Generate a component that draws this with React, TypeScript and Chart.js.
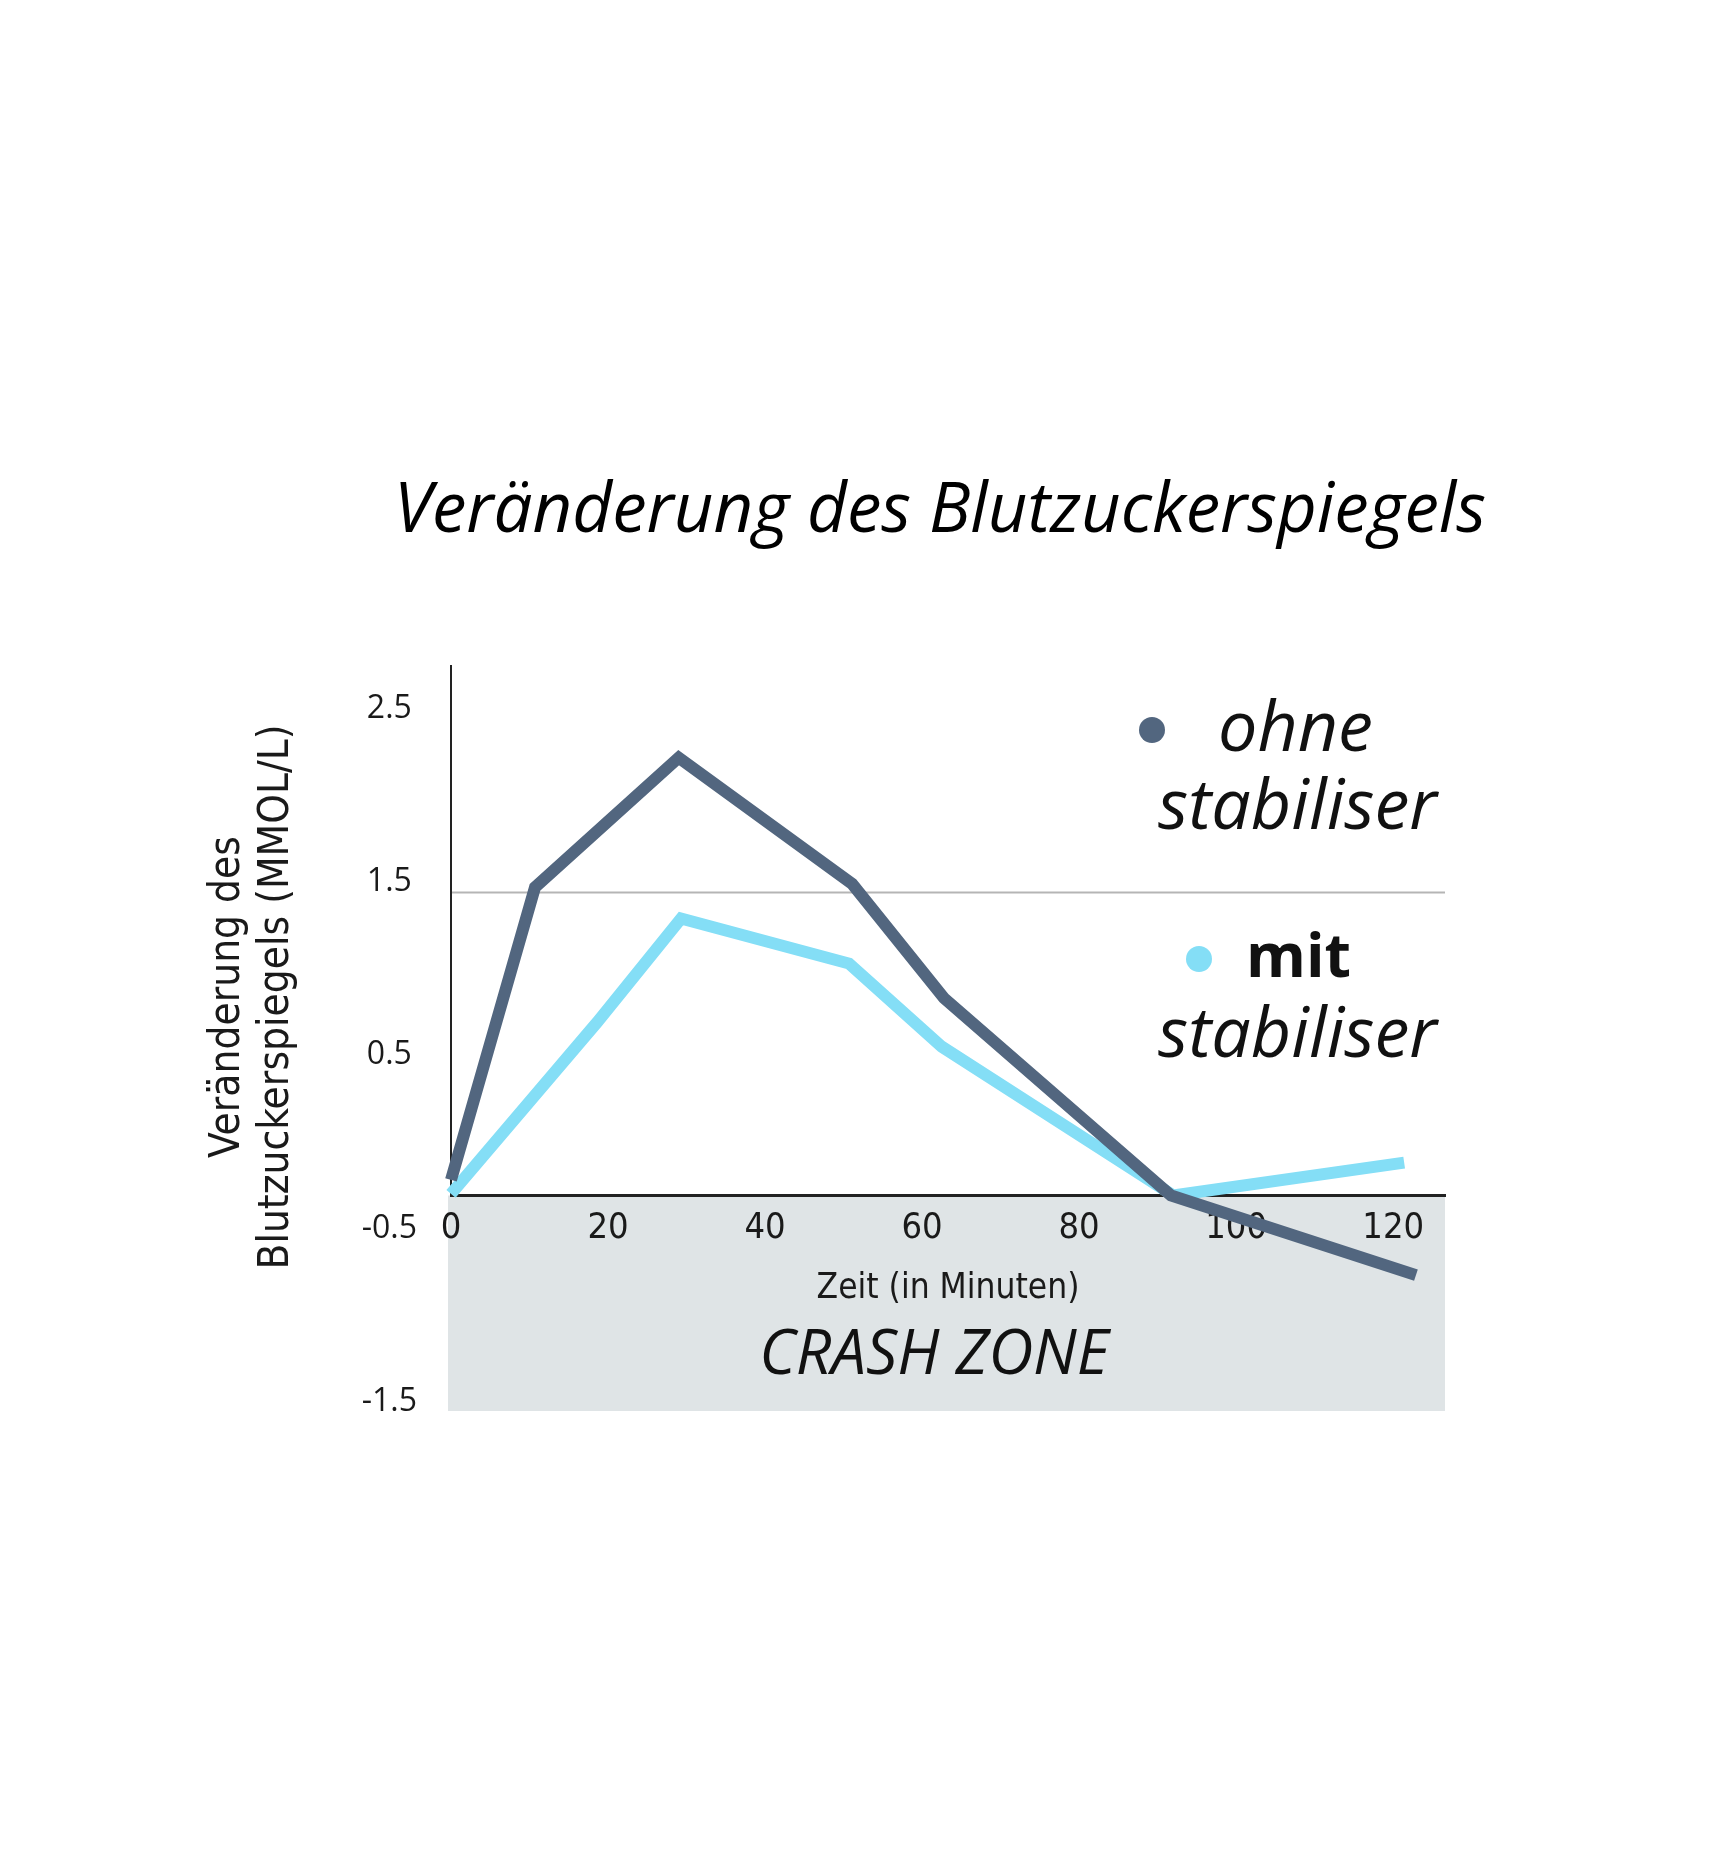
import React, { useEffect, useRef } from "react";
import { Chart, registerables } from "chart.js";

Chart.register(...registerables);

// ---- data ----
const minutesOhne = [0, 10.7, 29.0, 51.1, 62.8, 91.7, 122.9];
const valuesOhne = [-0.22, 1.47, 2.22, 1.49, 0.83, -0.31, -0.77];
const minutesMit = [0, 18.6, 29.3, 50.7, 62.5, 92.0, 121.4];
const valuesMit = [-0.3, 0.69, 1.29, 1.03, 0.55, -0.31, -0.12];
const xTickValues = [0, 20, 40, 60, 80, 100, 120];
const yTickValues = [2.5, 1.5, 0.5, -0.5, -1.5];
const seriesNames = ["ohne stabiliser", "mit stabiliser"];
const chartTitle = "Veränderung des Blutzuckerspiegels";
const yAxisTitle = ["Veränderung des", "Blutzuckerspiegels (MMOL/L)"];
const xAxisTitle = "Zeit (in Minuten)";
const zoneLabel = "CRASH ZONE";
const AXIS_VALUE = -0.31;
const REF_LINE_VALUE = 1.44;
const Y_MIN = -1.555;
const Y_MAX = 2.755;
const X_MIN = 0;
const X_MAX = 126.6;

const DARK = "#52667f";
const LIGHT = "#84def6";
const ZONE = "#dfe4e6";
const NARROW = "'Liberation Sans Narrow', 'DejaVu Sans Condensed', 'Roboto Condensed', sans-serif";
const SANS = "'Open Sans', 'Noto Sans', sans-serif";

const decorPlugin = {
  id: "decor",
  beforeDraw(chart: any) {
    const { ctx, chartArea } = chart;
    const y = chart.scales.y;
    const axisPx = y.getPixelForValue(AXIS_VALUE);
    ctx.save();
    ctx.fillStyle = ZONE;
    ctx.fillRect(chartArea.left - 3, axisPx, chartArea.right - chartArea.left + 3, chartArea.bottom - axisPx);
    const refPx = y.getPixelForValue(REF_LINE_VALUE);
    ctx.strokeStyle = "#b5b5b5";
    ctx.lineWidth = 2;
    ctx.beginPath();
    ctx.moveTo(chartArea.left, refPx);
    ctx.lineTo(chartArea.right, refPx);
    ctx.stroke();
    ctx.restore();
  },
  beforeDatasetsDraw(chart: any) {
    const { ctx, chartArea } = chart;
    const y = chart.scales.y;
    const axisPx = y.getPixelForValue(AXIS_VALUE);
    ctx.save();
    ctx.strokeStyle = "#222";
    ctx.lineWidth = 2;
    ctx.beginPath();
    ctx.moveTo(chartArea.left, chartArea.top);
    ctx.lineTo(chartArea.left, axisPx);
    ctx.stroke();
    ctx.restore();
  },
  afterDraw(chart: any) {
    const { ctx, chartArea } = chart;
    const R = chartArea.right;
    const T = chartArea.top;
    const cx = (chartArea.left + chartArea.right) / 2;
    ctx.save();

    // main title
    ctx.fillStyle = "#000";
    ctx.font = `italic 69px ${SANS}`;
    ctx.textAlign = "center";
    ctx.textBaseline = "alphabetic";
    ctx.fillText(chartTitle, cx - 8, T - 133);

    // y-axis title
    ctx.save();
    ctx.fillStyle = "#1a1a1a";
    ctx.font = `42px ${NARROW}`;
    ctx.textAlign = "center";
    ctx.textBaseline = "middle";
    ctx.translate(220, 989);
    ctx.rotate(-Math.PI / 2);
    ctx.fillText(yAxisTitle[0], 0, 0);
    ctx.fillText(yAxisTitle[1], 0, 49);
    ctx.restore();

    // legend
    const [ohne, stab] = seriesNames[0].split(" ");
    const [mit] = seriesNames[1].split(" ");
    ctx.fillStyle = DARK;
    ctx.beginPath();
    ctx.arc(R - 293, T + 65, 13, 0, Math.PI * 2);
    ctx.fill();
    ctx.fillStyle = LIGHT;
    ctx.beginPath();
    ctx.arc(R - 246, T + 294, 13, 0, Math.PI * 2);
    ctx.fill();
    ctx.fillStyle = "#111";
    ctx.textBaseline = "alphabetic";
    ctx.textAlign = "left";
    ctx.font = `italic 70px ${SANS}`;
    ctx.fillText(ohne, R - 227, T + 86);
    ctx.textAlign = "right";
    ctx.fillText(stab, R - 8, T + 164);
    ctx.fillText(stab, R - 8, T + 392);
    ctx.textAlign = "left";
    ctx.font = `bold 61px ${SANS}`;
    ctx.fillText(mit, R - 199, T + 312);

    // crash zone label
    ctx.font = `italic 62px ${SANS}`;
    ctx.textAlign = "center";
    ctx.textBaseline = "middle";
    ctx.fillStyle = "#111";
    ctx.fillText(zoneLabel, cx - 14, chartArea.bottom - 55);
    ctx.restore();
  },
};

export default function App() {
  const ref = useRef<HTMLCanvasElement | null>(null);
  useEffect(() => {
    if (!ref.current) return;
    const chart = new Chart(ref.current, {
      type: "line",
      data: {
        datasets: [
          {
            label: seriesNames[0],
            data: minutesOhne.map((m, i) => ({ x: m, y: valuesOhne[i] })),
            borderColor: DARK,
            backgroundColor: DARK,
            borderWidth: 12,
            pointRadius: 0,
            borderJoinStyle: "miter",
            borderCapStyle: "butt",
            tension: 0,
            clip: false as any,
          },
          {
            label: seriesNames[1],
            data: minutesMit.map((m, i) => ({ x: m, y: valuesMit[i] })),
            borderColor: LIGHT,
            backgroundColor: LIGHT,
            borderWidth: 12,
            pointRadius: 0,
            borderJoinStyle: "miter",
            borderCapStyle: "butt",
            tension: 0,
            clip: false as any,
          },
        ],
      },
      options: {
        animation: false,
        responsive: true,
        maintainAspectRatio: false,
        layout: { padding: { left: 195, right: 279, top: 657, bottom: 447 } },
        plugins: {
          legend: { display: false },
          tooltip: { enabled: false },
          title: { display: false },
        },
        scales: {
          x: {
            type: "linear",
            min: X_MIN,
            max: X_MAX,
            position: { y: AXIS_VALUE } as any,
            afterBuildTicks: (s: any) => {
              s.ticks = xTickValues.map((v) => ({ value: v }));
            },
            grid: { display: false, drawTicks: false },
            border: { display: true, color: "#222", width: 3 },
            ticks: {
              color: "#1a1a1a",
              padding: 12,
              maxRotation: 0,
              autoSkip: false,
              font: { family: NARROW, size: 36 },
            },
            title: {
              display: true,
              text: xAxisTitle,
              color: "#1a1a1a",
              font: { family: NARROW, size: 35 },
              padding: { top: 5, bottom: 0 },
            },
          },
          y: {
            type: "linear",
            min: Y_MIN,
            max: Y_MAX,
            position: "left",
            afterBuildTicks: (s: any) => {
              s.ticks = yTickValues.map((v) => ({ value: v }));
            },
            afterFit: (s: any) => {
              s.width = 248;
            },
            grid: { display: false, drawTicks: false },
            border: { display: false },
            ticks: {
              color: "#1a1a1a",
              padding: 34,
              crossAlign: "center",
              autoSkip: false,
              font: { family: SANS, size: 32 },
              callback: (v: any) => String(v),
            },
          },
        },
      },
      plugins: [decorPlugin],
    });
    return () => chart.destroy();
  }, []);
  return (
    <div style={{ width: 1716, height: 1850, position: "relative" }}>
      <canvas ref={ref} />
    </div>
  );
}
